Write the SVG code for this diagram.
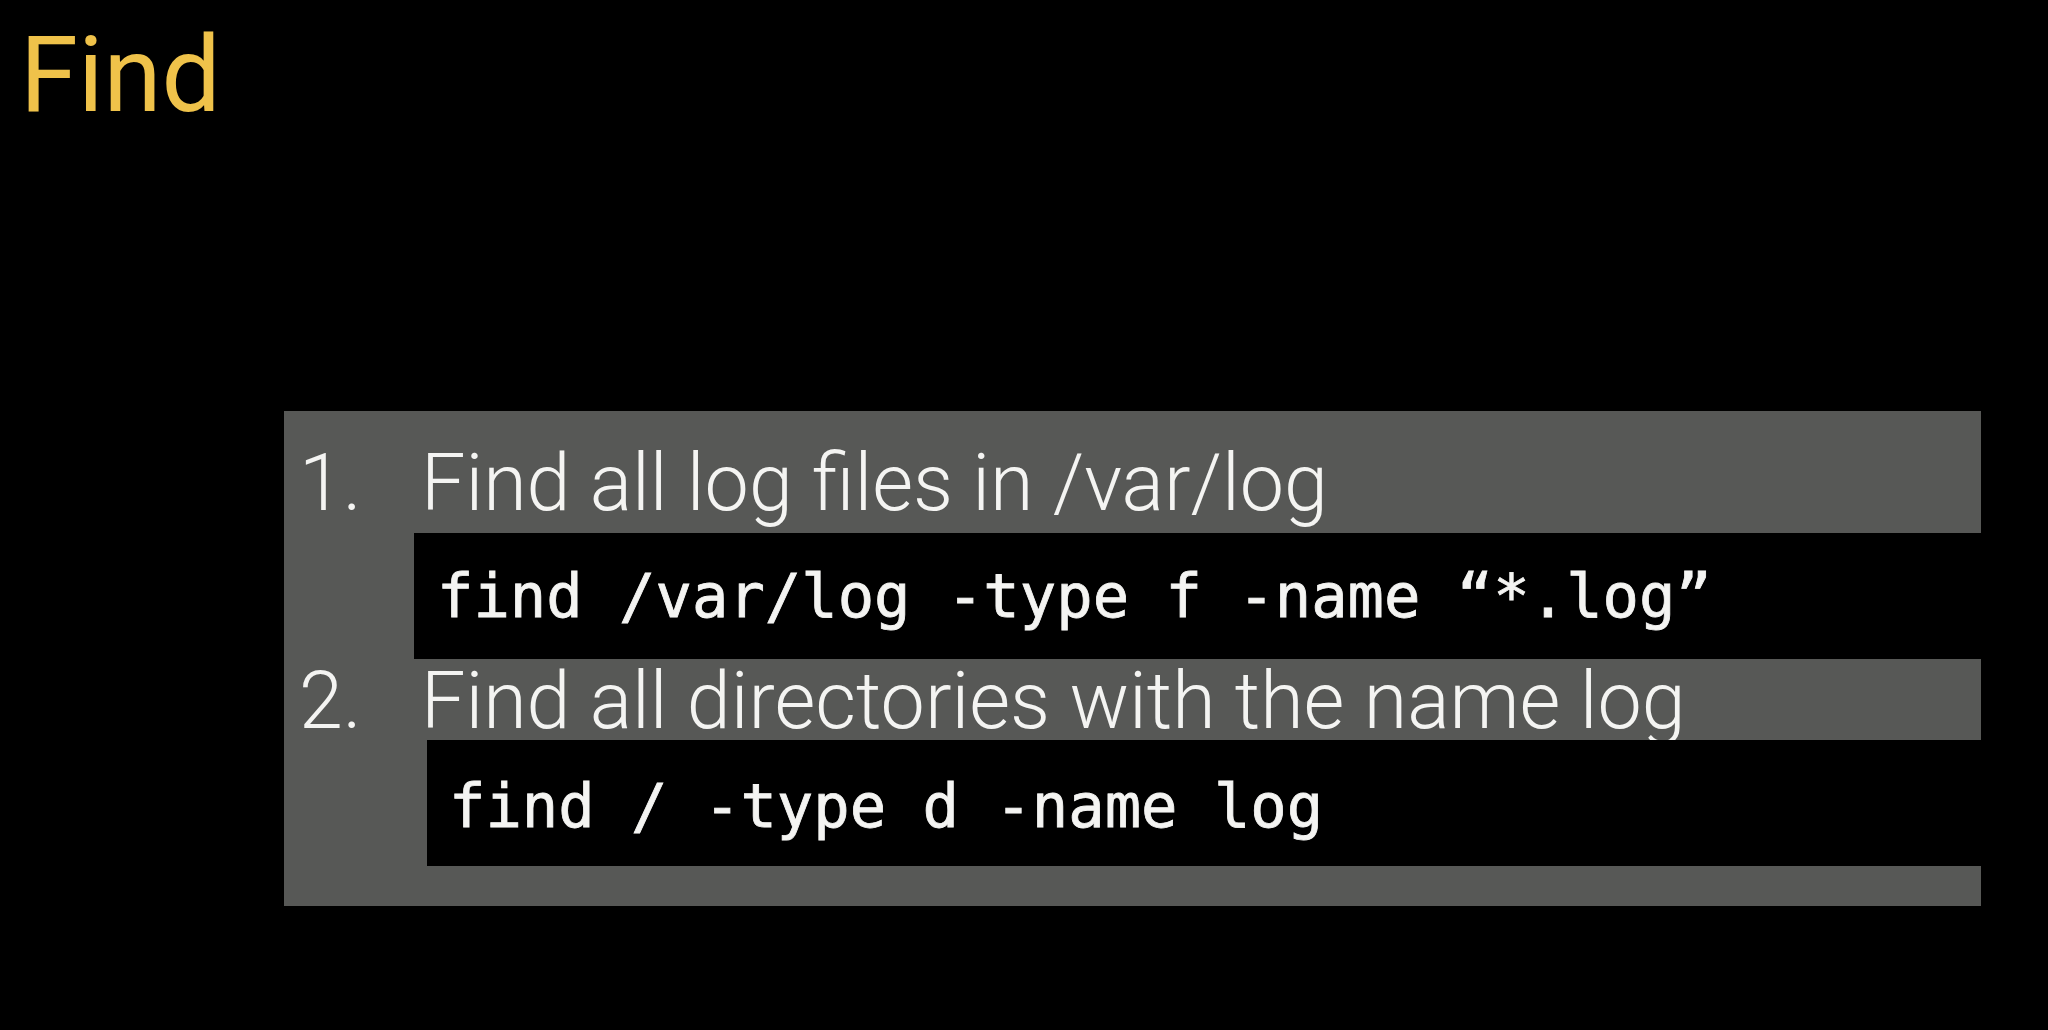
<svg xmlns="http://www.w3.org/2000/svg" width="2048" height="1030" viewBox="0 0 2048 1030">
  <style>
    .title { font-family: Roboto, "Noto Sans", "Liberation Sans", sans-serif; font-size: 105px; fill: #EFC24A; }
    .item { font-family: Roboto, "Noto Sans", "Liberation Sans", sans-serif; font-weight: 300; font-size: 79px; fill: #F4F4F2; }
    .code { font-family: "DejaVu Sans Mono", "Liberation Mono", monospace; font-weight: normal; font-size: 60.5px; fill: #F4F4F2; stroke: #F4F4F2; stroke-width: 0.8px; }
    .panel { fill: #575856; }
    .codebox { fill: #000000; }
  </style>
  <rect x="0" y="0" width="2048" height="1030" fill="#000000"/>
  <g id="title">
    <text class="title" x="20" y="111">Find</text>
  </g>
  <g id="panel">
    <rect class="panel" x="284" y="411" width="1697" height="495"/>
  </g>
  <g id="item1">
    <text class="item" x="299" y="510">1.</text>
    <text class="item" x="421" y="510">Find all log files in /var/log</text>
  </g>
  <g id="code1">
    <rect class="codebox" x="414" y="533" width="1567" height="126"/>
    <text class="code" x="437" y="617" xml:space="preserve">find /var/log -type f -name “*.log”</text>
  </g>
  <g id="item2">
    <text class="item" x="299" y="728">2.</text>
    <text class="item" x="421" y="728">Find all directories with the name log</text>
  </g>
  <g id="code2">
    <rect class="codebox" x="427" y="740" width="1554" height="126"/>
    <text class="code" x="449" y="827" xml:space="preserve">find / -type d -name log</text>
  </g>
  <g id="connectors"></g>
</svg>
